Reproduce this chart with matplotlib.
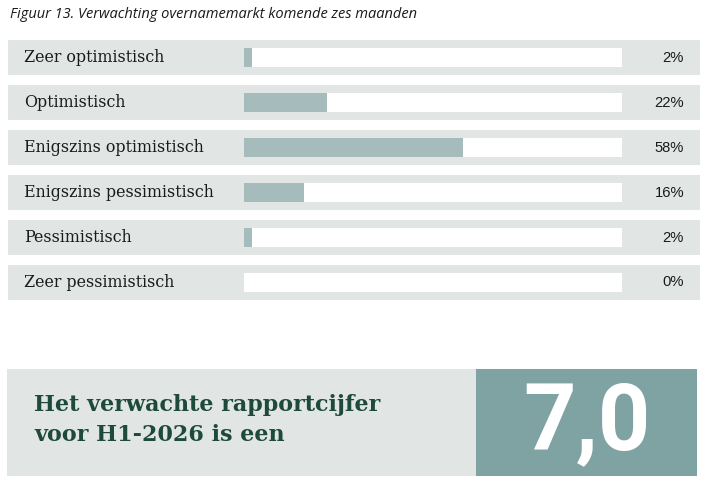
import matplotlib
matplotlib.use("Agg")
import matplotlib.pyplot as plt
from matplotlib.patches import Rectangle

# Data
title = "Figuur 13. Verwachting overnamemarkt komende zes maanden"
categories = ["Zeer optimistisch", "Optimistisch", "Enigszins optimistisch",
              "Enigszins pessimistisch", "Pessimistisch", "Zeer pessimistisch"]
values = [2, 22, 58, 16, 2, 0]
box_text = "Het verwachte rapportcijfer\nvoor H1-2026 is een"
grade = "7,0"

ROW_BG = "#e1e6e5"
BAR = "#a5bbbc"
TEAL = "#7fa3a2"
DARK_GREEN = "#1d4a3b"
TXT = "#1a1a1a"

W, H = 708, 486
fig = plt.figure(figsize=(W / 100, H / 100), dpi=100)

# background axes in pixel coordinates
bg = fig.add_axes([0, 0, 1, 1])
bg.set_xlim(0, W)
bg.set_ylim(H, 0)
bg.axis("off")

bg.text(10, 14, title, fontsize=10.5, style="italic", family="Open Sans",
        color=TXT, va="center", ha="left")

# bar chart axes: x 0..100 spans the white track (244..622 px)
left, right = 244, 622
top, bottom = 40, 300
ax = fig.add_axes([left / W, 1 - bottom / H, (right - left) / W, (bottom - top) / H])
n = len(categories)
pad = 17.5 / 45
ax.set_xlim(0, 100)
ax.set_ylim(n - 1 + pad, -pad)
ax.axis("off")

ypos = list(range(n))
ytr = ax.get_yaxis_transform()
for i in ypos:
    ax.add_patch(Rectangle(((8 - left) / (right - left), i - 0.389),
                           692 / (right - left), 0.778, transform=ytr,
                           facecolor=ROW_BG, edgecolor="none",
                           clip_on=False, zorder=0))
ax.barh(ypos, [100] * n, height=0.444, color="white", zorder=1)
ax.barh(ypos, values, height=0.444, color=BAR, zorder=2)

for i, (cat, v) in enumerate(zip(categories, values)):
    ax.text((24 - left) / (right - left), i, cat, transform=ytr,
            fontsize=11.4, family="DejaVu Serif", color=TXT,
            ha="left", va="center")
    ax.text((684 - left) / (right - left), i, f"{v}%", transform=ytr,
            fontsize=10.6, family="Liberation Sans", color=TXT,
            ha="right", va="center")

# bottom summary box
bg.add_patch(Rectangle((7, 369), 469, 107, facecolor=ROW_BG, edgecolor="none"))
bg.add_patch(Rectangle((476, 369), 221, 107, facecolor=TEAL, edgecolor="none"))
bg.text(34, 420, box_text, fontsize=16, family="DejaVu Serif",
        fontweight="bold", color=DARK_GREEN, ha="left", va="center",
        linespacing=1.45)
bg.text(587, 424, grade, fontsize=66, family="Roboto", fontweight="bold",
        color="white", ha="center", va="center")

fig.savefig("out.png", dpi=100)
